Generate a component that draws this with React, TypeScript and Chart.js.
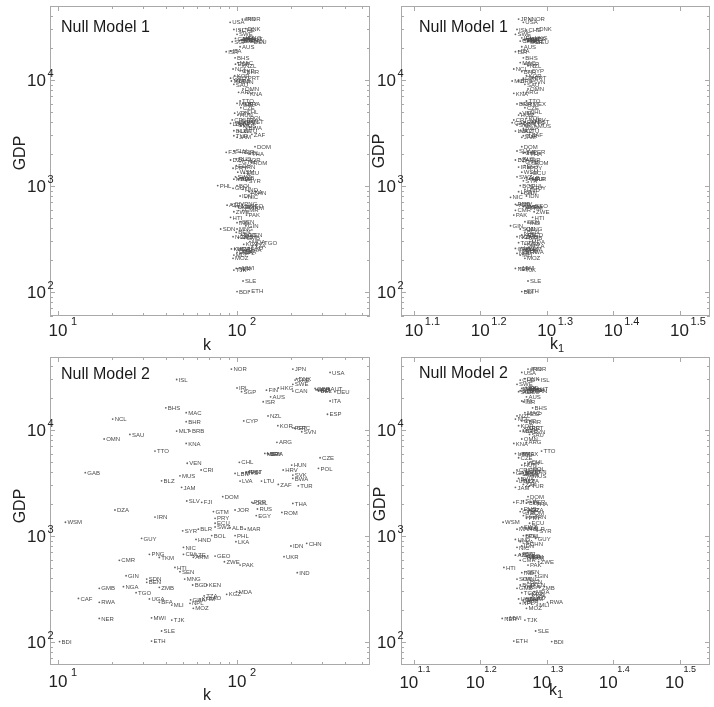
import { useEffect, useRef } from "react";
import { Chart, registerables } from "chart.js";
Chart.register(...registerables);

const countries = [
  "USA","NOR","JPN","CHE","DNK","ISL","SWE","IRL","SGP","FIN",
  "HKG","CAN","GBR","NLD","AUT","DEU","BEL","FRA","AUS","ISR",
  "ITA","BHS","MAC","NZL","ESP","NCL","BHR","CYP","KOR","PRT",
  "GRC","SVN","MLT","BRB","SAU","OMN","KNA","ARG","TTO","MEX",
  "URY","BRA","CZE","VEN","CHL","HUN","CRI","POL","HRV","GAB",
  "LBN","MYS","EST","PAN","SVK","BWA","MUS","BLZ","LVA","LTU",
  "ZAF","TUR","JAM","DOM","SLV","FJI","PER","COL","THA","RUS",
  "DZA","JOR","GTM","ROM","EGY","IRN","PRY","WSM","ECU","SWZ",
  "ALB","MAR","SYR","BLR","BOL","PHL","LKA","HND","GUY","CHN",
  "IDN","NIC","UKR","PNG","TKM","CIV","AZE","ARM","GEO","CMR",
  "ZWE","PAK","HTI","SEN","IND","GIN","MNG","SDN","BEN","BGD",
  "KEN","NGA","GMB","ZMB","MDA","TGO","KGZ","TZA","UGA","CAF",
  "GHA","KHM","LAO","NPL","RWA","BFA","MLI","MOZ","NER","MWI",
  "TJK","SLE","ETH","BDI",
];

const gdp = [
  35000,37600,37600,29600,30500,30000,27000,25000,23000,23800,
  25000,23300,24700,24000,24700,23000,23500,24000,20600,18500,
  18800,16200,14600,13600,14100,12700,12000,12200,11000,10500,
  10400,9640,9790,9790,9100,8230,7480,7660,6340,6020,
  6000,5950,5480,4860,4960,4670,4200,4350,4200,3960,
  3900,3950,4040,4000,3760,3500,3700,3320,3300,3300,
  3070,2980,2880,2350,2140,2080,2080,2040,2030,1800,
  1760,1760,1700,1670,1560,1510,1470,1350,1320,1220,
  1200,1160,1120,1160,1010,1010,884,930,951,853,
  805,782,638,672,629,672,660,630,647,590,
  572,532,506,461,451,422,393,393,366,345,
  345,333,321,328,299,292,282,273,255,258,
  250,255,262,232,237,237,223,208,167,169,
  161,127,102,101,
];

// Null Model 1: degree k
const nm1K = [
  91.5,111,107,104,112,96,100,109,94,106,
  113,118,98,110,116,121,103,108,104,87,
  92,97.5,101,108,98,95,110,104,97,112,
  92,103,93,99,96,108,115,102,104,100,
  108,112,105,97,110,101,94,115,107,98,
  92,103,118,110,99,113,105,96,102,110,
  121,96,100,126,96,87,104,111,118,99,
  92,113,104,120,99,108,95,101,110,98,
  105,96,113,102,100,78,117,108,95,120,
  104,112,98,107,117,94,88,102,115,108,
  96,113,92,104,100,112,100,81,99,106,
  115,95,110,102,118,138,109,122,97,104,
  113,93,117,105,100,108,96,95,99,104,
  96,108,117,100,
];

// Null Model 1: k1
const nm1K1 = [
  18.4,18.8,18.1,18.6,19.3,18.0,17.9,18.3,18.7,18.5,
  19.0,18.2,18.9,18.4,18.6,19.1,18.7,18.5,18.3,17.9,
  18.1,18.4,18.2,18.7,18.5,17.8,18.3,18.8,18.6,19.0,
  18.4,18.9,17.7,18.1,18.5,18.7,17.8,18.4,18.6,18.9,
  18.3,18.0,18.5,18.2,18.7,18.1,17.8,18.6,18.9,17.7,
  18.3,18.8,19.2,18.5,18.0,18.4,19.2,18.2,17.9,18.6,
  18.8,18.4,18.3,18.3,18.0,18.5,18.9,18.4,18.7,18.2,
  17.9,18.6,18.4,19.0,18.5,18.1,18.7,18.3,18.9,18.0,
  18.6,18.8,18.4,19.0,18.2,18.8,18.1,18.5,18.9,18.3,
  18.6,17.6,18.4,17.9,18.7,18.2,18.0,18.6,19.0,17.9,
  19.1,17.8,19.0,18.5,18.7,17.6,18.6,18.2,18.5,18.7,
  18.3,18.0,18.6,18.4,18.8,18.1,18.5,18.9,18.2,17.9,
  18.4,18.6,18.3,18.0,18.7,18.4,18.2,18.5,17.9,18.2,
  18.4,18.7,18.5,18.3,
];

// Null Model 2: degree k
const nm2K = [
  331,93,205,211,215,46,205,100,106,146,
  170,205,273,276,324,352,285,281,154,140,
  331,40,52,149,320,20.2,52,109,169,205,
  210,230,46,54.6,25.2,18.1,52,167,34.8,143,
  148,150,291,52.7,103,202,63,285,181,14.2,
  97.5,108,116,113,205,205,48,37.9,104,137,
  170,220,49,83.2,52.4,63.5,121,123,205,130,
  20.8,97.5,73.8,178,128,34.8,75.4,11.0,75.4,75.4,
  91.4,111,49.7,60.8,72.2,97.5,98.6,59,29.3,245,
  200,50.2,183,32.4,36.8,50.2,56,57,75.4,22,
  85,104,45,48,217,24,51,31.3,31.3,56.5,
  67.8,23.2,17,36.8,99.5,27.3,87.5,65.5,32.4,13,
  55,62,68,54.6,17,36.8,43.2,57,17,33.3,
  43.2,37.9,33.3,10.2,
];

// Null Model 2: k1
const nm2K1 = [
  18.3,18.9,18.7,18.2,18.5,19.4,18.0,18.6,18.1,18.8,
  18.4,19.0,18.3,18.7,19.1,18.5,18.2,18.9,18.6,18.4,
  18.3,19.0,18.5,18.0,18.7,17.9,18.6,18.3,18.1,18.8,
  18.5,18.9,18.2,18.4,18.8,18.3,17.8,18.6,19.6,18.4,
  17.9,18.2,18.1,18.5,18.8,18.3,18.0,18.9,18.6,17.8,
  18.2,18.4,18.7,19.0,18.5,18.1,18.9,18.3,18.6,18.0,
  18.4,18.8,17.9,18.7,18.4,17.8,18.9,18.6,19.1,18.3,
  18.8,18.5,18.2,18.7,18.4,19.1,18.6,17.15,18.8,18.3,
  18.5,18.0,19.3,18.9,18.4,18.6,18.2,17.9,19.2,18.7,
  18.3,18.0,18.6,18.2,18.8,18.4,17.9,18.7,18.5,18.2,
  19.4,18.7,17.2,18.5,18.3,19.2,18.4,18.0,18.7,18.2,
  18.9,18.5,18.0,19.5,19.1,18.3,18.8,19.0,18.1,18.6,
  18.4,18.7,18.9,18.2,20.0,18.5,19.3,18.6,17.1,17.4,
  18.5,19.2,17.8,20.3,
];

const kTickExponents = ["1", "2"];
const k1TickExponents = ["1.1", "1.2", "1.3", "1.4", "1.5"];
const gdpTickExponents = ["2", "3", "4"];
const titles = ["Null Model 1", "Null Model 1", "Null Model 2", "Null Model 2"];

const W = 714;
const H = 707;
const FONT = "'Liberation Sans', Arial, Helvetica, sans-serif";

type PanelCfg = {
  id: string;
  xs: number[];
  title: string;
  kind: "k" | "k1";
  area: { left: number; right: number; top: number; bottom: number };
  xRange: [number, number];
  yRange: [number, number];
  titlePos: [number, number];
  gdpPos: [number, number];
  xLabelPos: [number, number];
  xTickY: number;
  xExpStyle: "right" | "raised";
  yLabelRight: number;
};

const panels: PanelCfg[] = [
  {
    id: "p1", xs: nm1K, title: titles[0], kind: "k",
    area: { left: 50, right: 370, top: 6, bottom: 316 },
    xRange: [9.02, 553], yRange: [59.4, 49900],
    titlePos: [61, 28], gdpPos: [21, 153], xLabelPos: [207, 346],
    xTickY: 331, xExpStyle: "right", yLabelRight: 46,
  },
  {
    id: "p2", xs: nm1K1, title: titles[1], kind: "k1",
    area: { left: 401, right: 714, top: 6, bottom: 316 },
    xRange: [12.04, 35.14], yRange: [59.4, 49900],
    titlePos: [419, 28], gdpPos: [380, 151], xLabelPos: [557, 345],
    xTickY: 331, xExpStyle: "right", yLabelRight: 396,
  },
  {
    id: "p3", xs: nm2K, title: titles[2], kind: "k",
    area: { left: 50, right: 370, top: 357, bottom: 665 },
    xRange: [9.02, 553], yRange: [60.7, 48900],
    titlePos: [61, 375], gdpPos: [21, 506], xLabelPos: [207, 696],
    xTickY: 682, xExpStyle: "right", yLabelRight: 46,
  },
  {
    id: "p4", xs: nm2K1, title: titles[3], kind: "k1",
    area: { left: 401, right: 714, top: 357, bottom: 665 },
    xRange: [12.04, 35.14], yRange: [60.7, 48900],
    titlePos: [419, 374], gdpPos: [381, 504], xLabelPos: [556, 691],
    xTickY: 683, xExpStyle: "raised", yLabelRight: 396,
  },
];

function decorPlugin(p: PanelCfg) {
  return {
    id: "decor_" + p.id,
    afterDatasetsDraw(chart: any) {
      const ctx: CanvasRenderingContext2D = chart.ctx;
      const { left, right, top, bottom } = chart.chartArea;
      const xs = chart.scales.x;
      const ys = chart.scales.y;
      ctx.save();

      // country labels
      const meta = chart.getDatasetMeta(0);
      ctx.font = `6px ${FONT}`;
      ctx.fillStyle = "#4a4a4a";
      ctx.textBaseline = "middle";
      ctx.textAlign = "left";
      ctx.beginPath();
      ctx.rect(left, top, right - left, bottom - top);
      ctx.clip();
      meta.data.forEach((pt: any, i: number) => {
        ctx.fillText(countries[i], pt.x + 2, pt.y + 0.5);
      });
      ctx.restore();
      ctx.save();

      // frame
      ctx.strokeStyle = "#a9a9a9";
      ctx.lineWidth = 1;
      ctx.strokeRect(left + 0.5, top + 0.5, right - left - 1, bottom - top - 1);

      // ticks
      ctx.beginPath();
      const xMin = xs.min, xMax = xs.max;
      if (p.kind === "k") {
        for (let n = 0; n <= 3; n++) {
          for (let m = 1; m <= 9; m++) {
            const v = m * Math.pow(10, n);
            if (v < xMin || v > xMax) continue;
            const x = Math.round(xs.getPixelForValue(v)) + 0.5;
            const len = m === 1 ? 5 : 3;
            ctx.moveTo(x, bottom); ctx.lineTo(x, bottom - len);
            ctx.moveTo(x, top); ctx.lineTo(x, top + len);
          }
        }
      } else {
        k1TickExponents.forEach((e) => {
          const v = Math.pow(10, parseFloat(e));
          const x = Math.round(xs.getPixelForValue(v)) + 0.5;
          ctx.moveTo(x, bottom); ctx.lineTo(x, bottom - 5);
          ctx.moveTo(x, top); ctx.lineTo(x, top + 5);
        });
      }
      for (let n = 1; n <= 4; n++) {
        for (let m = 1; m <= 9; m++) {
          const v = m * Math.pow(10, n);
          if (v < ys.min || v > ys.max) continue;
          const y = Math.round(ys.getPixelForValue(v)) + 0.5;
          const len = m === 1 ? 5 : 3;
          ctx.moveTo(left, y); ctx.lineTo(left + len, y);
          ctx.moveTo(right, y); ctx.lineTo(right - len, y);
        }
      }
      ctx.stroke();

      // x tick labels
      ctx.fillStyle = "#222";
      ctx.textBaseline = "middle";
      const xExps = p.kind === "k" ? kTickExponents : k1TickExponents;
      xExps.forEach((e) => {
        const v = Math.pow(10, parseFloat(e));
        const x = xs.getPixelForValue(v);
        if (p.xExpStyle === "right") {
          ctx.font = `17px ${FONT}`;
          ctx.textAlign = "center";
          ctx.fillText("10", x, p.xTickY);
          ctx.font = `11px ${FONT}`;
          ctx.textAlign = "left";
          ctx.fillText(e, x + (p.kind === "k" ? 13 : 11), p.xTickY - 9);
        } else {
          ctx.font = `17px ${FONT}`;
          ctx.textAlign = "center";
          ctx.fillText("10", x - 5, p.xTickY);
          ctx.font = `9px ${FONT}`;
          ctx.textAlign = "left";
          ctx.fillText(e, x + 4, p.xTickY - 13);
        }
      });

      // y tick labels
      gdpTickExponents.forEach((e) => {
        const v = Math.pow(10, parseFloat(e));
        const y = ys.getPixelForValue(v);
        ctx.font = `17px ${FONT}`;
        ctx.textAlign = "right";
        ctx.fillText("10", p.yLabelRight, y + 1);
        ctx.font = `11px ${FONT}`;
        ctx.textAlign = "left";
        ctx.fillText(e, p.yLabelRight + 1.5, y - 6);
      });

      // axis titles
      ctx.fillStyle = "#222";
      ctx.font = `16px ${FONT}`;
      ctx.textAlign = "center";
      ctx.save();
      ctx.translate(p.gdpPos[0], p.gdpPos[1]);
      ctx.rotate(-Math.PI / 2);
      ctx.fillText("GDP", 0, 0);
      ctx.restore();
      ctx.font = `16px ${FONT}`;
      ctx.textAlign = "center";
      if (p.kind === "k") {
        ctx.fillText("k", p.xLabelPos[0], p.xLabelPos[1]);
      } else {
        ctx.fillText("k", p.xLabelPos[0] - 3, p.xLabelPos[1]);
        ctx.font = `11px ${FONT}`;
        ctx.textAlign = "left";
        ctx.fillText("1", p.xLabelPos[0] + 1, p.xLabelPos[1] + 4);
      }

      // panel title
      ctx.font = `16px ${FONT}`;
      ctx.textAlign = "left";
      ctx.fillStyle = "#1a1a1a";
      ctx.fillText(p.title, p.titlePos[0], p.titlePos[1]);

      ctx.restore();
    },
  };
}

function Panel({ p }: { p: PanelCfg }) {
  const ref = useRef<HTMLCanvasElement | null>(null);
  useEffect(() => {
    if (!ref.current) return;
    const chart = new Chart(ref.current, {
      type: "scatter",
      data: {
        datasets: [
          {
            data: countries.map((_, i) => ({ x: p.xs[i], y: gdp[i] })),
            pointRadius: 0.9,
            pointBackgroundColor: "#666",
            pointBorderWidth: 0,
          },
        ],
      },
      options: {
        responsive: false,
        animation: false,
        events: [],
        layout: {
          padding: {
            left: p.area.left,
            right: W - p.area.right,
            top: p.area.top,
            bottom: H - p.area.bottom,
          },
        },
        plugins: { legend: { display: false }, tooltip: { enabled: false } },
        scales: {
          x: { type: "logarithmic", display: false, min: p.xRange[0], max: p.xRange[1], bounds: "data" },
          y: { type: "logarithmic", display: false, min: p.yRange[0], max: p.yRange[1], bounds: "data" },
        },
      },
      plugins: [decorPlugin(p)],
    } as any);
    return () => chart.destroy();
  }, [p]);
  return (
    <canvas
      ref={ref}
      width={W}
      height={H}
      style={{ position: "absolute", left: 0, top: 0, width: W, height: H }}
    />
  );
}

export default function App() {
  return (
    <div
      style={{
        position: "fixed", left: 0, top: 0, width: W, height: H,
        overflow: "hidden", background: "#fff",
      }}
    >
      {panels.map((p) => (
        <Panel key={p.id} p={p} />
      ))}
    </div>
  );
}
